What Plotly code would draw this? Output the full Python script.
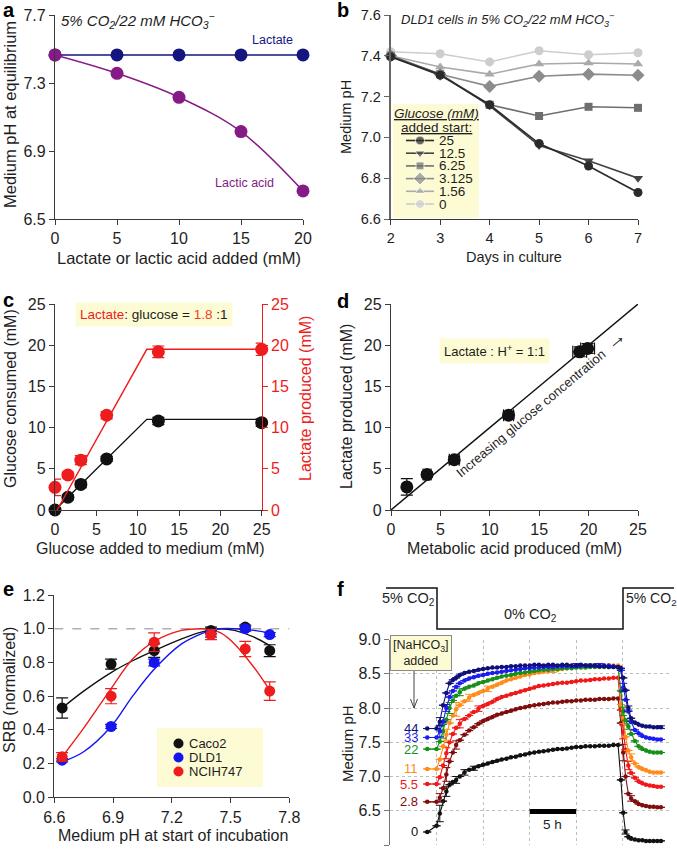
import plotly.graph_objects as go

W, H = 677, 850
FONT = "Liberation Sans, Arial, Helvetica, sans-serif"
TXT = "#1e1e1e"
AXC = "#3a3a3a"
NOTE_BG = "#fdfbd3"


def PX(x):
    return x / W


def PY(y):
    return 1 - y / H


# ---------------- panel a ----------------
A_ADDED = [0, 5, 10, 15, 20]
A_LACTATE = [7.465, 7.465, 7.465, 7.465, 7.465]
A_LACTIC_ACID = [7.465, 7.357, 7.216, 7.014, 6.665]
A_YTICKS = [6.5, 6.9, 7.3, 7.7]
A_XTICKS = [0, 5, 10, 15, 20]

# ---------------- panel b ----------------
B_DAYS = [2, 3, 4, 5, 6, 7]
B_LABELS = ["25", "12.5", "6.25", "3.125", "1.56", "0"]
B_PH_25 = [7.395, 7.305, 7.16, 6.97, 6.86, 6.73]
B_PH_12_5 = [7.395, 7.31, 7.155, 6.96, 6.885, 6.80]
B_PH_6_25 = [7.40, 7.31, 7.16, 7.105, 7.15, 7.145]
B_PH_3_125 = [7.40, 7.31, 7.25, 7.30, 7.31, 7.305]
B_PH_1_56 = [7.40, 7.345, 7.31, 7.36, 7.365, 7.36]
B_PH_0 = [7.42, 7.41, 7.37, 7.425, 7.405, 7.415]

# ---------------- panel c ----------------
C_GLUCOSE_ADDED = [0, 1.56, 3.125, 6.25, 12.5, 25]
C_GLUCOSE_CONSUMED = [0, 1.55, 3.1, 6.2, 10.8, 10.6]
C_GLUCOSE_ERR = [0.2, 0.3, 0.4, 0.3, 0.45, 0.45]
C_LACTATE = [2.75, 4.25, 6.05, 11.5, 19.2, 19.5]
C_LACTATE_ERR = [1.0, 0.35, 0.55, 0.45, 0.7, 0.75]
C_FIT_GLU_X = [0, 11.1, 25]
C_FIT_GLU_Y = [0, 11.0, 11.0]
C_FIT_LAC_X = [0.25, 11.1, 25]
C_FIT_LAC_Y = [0, 19.5, 19.5]

# ---------------- panel d ----------------
D_ACID = [1.6, 3.65, 6.4, 11.9, 19.1, 19.9]
D_LACTATE = [2.8, 4.3, 6.1, 11.5, 19.2, 19.6]
D_YERR = [1.0, 0.3, 0.4, 0.4, 0.6, 0.6]
D_XERR = [0.2, 0.4, 0.5, 0.5, 0.7, 0.7]
D_UNITY = [0, 25]

# ---------------- panel e ----------------
E_PH = [6.64, 6.89, 7.11, 7.40, 7.575, 7.70]
E_CACO2 = [0.53, 0.79, 0.87, 0.99, 1.01, 0.87]
E_CACO2_ERR = [0.06, 0.03, 0.04, 0.02, 0.012, 0.035]
E_DLD1 = [0.22, 0.42, 0.80, 0.97, 1.00, 0.965]
E_DLD1_ERR = [0.01, 0.012, 0.02, 0.02, 0.015, 0.012]
E_NCIH747 = [0.24, 0.60, 0.92, 0.965, 0.88, 0.63]
E_NCIH747_ERR = [0.025, 0.045, 0.055, 0.03, 0.045, 0.055]
E_FIT_PH = [6.64, 6.75, 6.89, 7.0, 7.11, 7.25, 7.35, 7.40, 7.45, 7.52, 7.62, 7.70]
E_FIT_CACO2 = [0.53, 0.63, 0.74, 0.81, 0.87, 0.94, 0.98, 0.99, 1.0, 0.99, 0.95, 0.90]
E_FIT_DLD1 = [0.21, 0.27, 0.42, 0.60, 0.76, 0.91, 0.97, 0.99, 1.0, 1.0, 0.99, 0.975]
E_FIT_NCIH747 = [0.24, 0.41, 0.645, 0.82, 0.925, 0.99, 1.0, 0.995, 0.975, 0.91, 0.77, 0.635]

# ---------------- panel f ----------------
F_TIME = [4.0,
          5.0, 5.35, 5.7, 6.05, 6.4, 6.75, 7.1, 7.5, 8.0, 8.5, 9.0, 9.5, 10.0, 10.5,
          11.0, 11.5, 12.0, 12.5, 13.0, 13.5, 14.0, 14.5, 15.0, 15.5, 16.0, 16.5, 17.0, 17.5,
          18.0, 18.5, 19.0, 19.5, 20.0, 20.5, 21.0, 21.5, 22.0, 22.5, 23.0, 23.5, 24.0, 24.5,
          24.8, 25.05, 25.3, 25.6, 25.9, 26.3, 26.7, 27.1, 27.5, 27.9, 28.3, 28.7, 29.1]
F_LABELS = ["44", "33", "22", "11", "5.5", "2.8", "0"]
F_PH_44 = [7.70,
           7.70, 7.80, 8.04, 8.22, 8.36, 8.41, 8.44, 8.48, 8.51, 8.53, 8.54, 8.56, 8.57, 8.58,
           8.59, 8.59, 8.60, 8.60, 8.61, 8.61, 8.62, 8.62, 8.62, 8.63, 8.63, 8.62, 8.63, 8.63,
           8.62, 8.63, 8.63, 8.62, 8.62, 8.63, 8.62, 8.62, 8.62, 8.61, 8.61, 8.60, 8.60, 8.60,
           8.58, 8.44, 8.26, 8.00, 7.85, 7.79, 7.76, 7.74, 7.73, 7.73, 7.72, 7.72, 7.72]
F_PH_33 = [7.57,
           7.57, 7.66, 7.80, 8.00, 8.16, 8.25, 8.31, 8.36, 8.40, 8.43, 8.45, 8.47, 8.48, 8.50,
           8.51, 8.52, 8.53, 8.54, 8.55, 8.56, 8.57, 8.58, 8.58, 8.59, 8.59, 8.60, 8.60, 8.60,
           8.61, 8.61, 8.61, 8.61, 8.62, 8.62, 8.62, 8.62, 8.62, 8.62, 8.62, 8.62, 8.61, 8.60,
           8.55, 8.30, 8.12, 7.95, 7.80, 7.68, 7.63, 7.59, 7.57, 7.56, 7.55, 7.54, 7.54]
F_PH_22 = [7.40,
           7.40, 7.51, 7.66, 7.83, 8.00, 8.11, 8.18, 8.23, 8.28, 8.31, 8.33, 8.36, 8.38, 8.40,
           8.42, 8.44, 8.46, 8.47, 8.48, 8.50, 8.51, 8.52, 8.53, 8.54, 8.55, 8.56, 8.56, 8.57,
           8.57, 8.58, 8.58, 8.58, 8.59, 8.59, 8.59, 8.60, 8.60, 8.60, 8.60, 8.60, 8.60, 8.59,
           8.25, 7.95, 7.82, 7.73, 7.62, 7.52, 7.44, 7.40, 7.38, 7.36, 7.35, 7.35, 7.35]
F_PH_11 = [7.11,
           7.11, 7.25, 7.44, 7.61, 7.78, 7.89, 7.98, 8.04, 8.10, 8.15, 8.19, 8.22, 8.25, 8.28,
           8.31, 8.34, 8.37, 8.40, 8.42, 8.44, 8.46, 8.48, 8.49, 8.51, 8.52, 8.53, 8.54, 8.55,
           8.56, 8.57, 8.58, 8.59, 8.59, 8.60, 8.60, 8.61, 8.61, 8.62, 8.62, 8.62, 8.62, 8.62,
           8.05, 7.85, 7.58, 7.38, 7.28, 7.19, 7.14, 7.11, 7.09, 7.07, 7.06, 7.06, 7.06]
F_PH_5_5 = [6.89,
            6.89, 6.99, 7.16, 7.34, 7.50, 7.62, 7.71, 7.77, 7.84, 7.89, 7.94, 7.99, 8.03, 8.06,
            8.09, 8.13, 8.16, 8.18, 8.20, 8.22, 8.24, 8.26, 8.28, 8.30, 8.32, 8.33, 8.34, 8.35,
            8.36, 8.37, 8.37, 8.38, 8.39, 8.40, 8.40, 8.41, 8.42, 8.42, 8.43, 8.43, 8.44, 8.44,
            7.97, 7.65, 7.39, 7.16, 7.05, 6.98, 6.93, 6.90, 6.88, 6.87, 6.86, 6.85, 6.85]
F_PH_2_8 = [6.63,
            6.63, 6.69, 6.83, 7.03, 7.22, 7.35, 7.46, 7.53, 7.61, 7.67, 7.72, 7.77, 7.81, 7.84,
            7.87, 7.90, 7.92, 7.94, 7.96, 7.98, 8.00, 8.01, 8.03, 8.04, 8.05, 8.06, 8.07, 8.08,
            8.08, 8.09, 8.10, 8.10, 8.11, 8.11, 8.12, 8.12, 8.12, 8.13, 8.13, 8.13, 8.14, 8.14,
            7.78, 7.35, 7.00, 6.75, 6.68, 6.64, 6.60, 6.58, 6.57, 6.56, 6.56, 6.55, 6.55]
F_PH_0 = [6.19,
          6.28, 6.46, 6.64, 6.78, 6.88, 6.92, 6.95, 7.00, 7.06, 7.10, 7.12, 7.15, 7.17, 7.19,
          7.21, 7.23, 7.25, 7.26, 7.28, 7.29, 7.31, 7.32, 7.34, 7.35, 7.36, 7.37, 7.38, 7.39,
          7.40, 7.40, 7.41, 7.42, 7.43, 7.43, 7.44, 7.44, 7.44, 7.45, 7.45, 7.45, 7.46, 7.46,
          6.95, 6.47, 6.19, 6.12, 6.09, 6.08, 6.07, 6.07, 6.06, 6.06, 6.06, 6.06, 6.06]
# sparse error bars (index into F_TIME, error size)
F_ERR_44_IDX = [2, 36, 46, 55]
F_ERR_44_VAL = [0.06, 0.02, 0.03, 0.02]
F_ERR_33_IDX = [2, 4, 33, 38, 44]
F_ERR_33_VAL = [0.08, 0.05, 0.03, 0.03, 0.06]
F_ERR_22_IDX = [3, 5, 8, 44, 46]
F_ERR_22_VAL = [0.10, 0.08, 0.05, 0.06, 0.04]
F_ERR_11_IDX = [4, 7, 10, 14, 28, 44, 47]
F_ERR_11_VAL = [0.08, 0.10, 0.05, 0.04, 0.03, 0.08, 0.05]
F_ERR_5_5_IDX = [4, 8, 12, 44, 46]
F_ERR_5_5_VAL = [0.08, 0.06, 0.04, 0.10, 0.06]
F_ERR_2_8_IDX = [2, 4, 7, 44, 47]
F_ERR_2_8_VAL = [0.06, 0.10, 0.06, 0.12, 0.04]
F_ERR_0_IDX = [2, 4, 7, 9, 11, 45]
F_ERR_0_VAL = [0.12, 0.07, 0.05, 0.04, 0.03, 0.03]
F_SCALE_BAR_H = [15, 20]

# ---------------- styles ----------------
A_COL_LACTATE = "#15157f"
A_COL_LACTIC = "#861a86"
B_COLORS = ["#2b2b2b", "#444444", "#6e6e6e", "#8c8c8c", "#aaaaaa", "#cdcdcd"]
B_SYMBOLS = ["circle", "triangle-down", "square", "diamond", "triangle-up", "circle"]
B_SIZES = [9, 9, 8, 10, 9, 9]
C_RED = "#ee1c1c"
E_COLS = ["#111111", "#1515ee", "#ee1c1c"]
E_NAMES = ["Caco2", "DLD1", "NCIH747"]
F_COLORS = ["#10107a", "#1c1cf0", "#17901a", "#ff8c1a", "#f01818", "#800d0d", "#111111"]

fig = go.Figure()


def sc(**kw):
    kw.setdefault("showlegend", False)
    kw.setdefault("cliponaxis", False)
    kw.setdefault("hoverinfo", "skip")
    fig.add_trace(go.Scatter(**kw))


# ---- a
sc(x=A_ADDED, y=A_LACTATE, mode="lines+markers", xaxis="x", yaxis="y",
   line=dict(color=A_COL_LACTATE, width=1.5), marker=dict(size=13, color=A_COL_LACTATE))
sc(x=A_ADDED, y=A_LACTIC_ACID, mode="lines+markers", xaxis="x", yaxis="y",
   line=dict(color=A_COL_LACTIC, width=1.5, shape="spline"), marker=dict(size=13, color=A_COL_LACTIC))

# ---- b
B_SERIES = [B_PH_25, B_PH_12_5, B_PH_6_25, B_PH_3_125, B_PH_1_56, B_PH_0]
for ys, col, sym, sz in reversed(list(zip(B_SERIES, B_COLORS, B_SYMBOLS, B_SIZES))):
    sc(x=B_DAYS, y=ys, mode="lines+markers", xaxis="x2", yaxis="y2",
       line=dict(color=col, width=1.6), marker=dict(size=sz, color=col, symbol=sym))

# ---- c
sc(x=C_FIT_GLU_X, y=C_FIT_GLU_Y, mode="lines", xaxis="x3", yaxis="y3",
   line=dict(color="#111111", width=1.4))
sc(x=C_FIT_LAC_X, y=C_FIT_LAC_Y, mode="lines", xaxis="x3", yaxis="y4",
   line=dict(color=C_RED, width=1.4))
sc(x=C_GLUCOSE_ADDED, y=C_GLUCOSE_CONSUMED, mode="markers", xaxis="x3", yaxis="y3",
   marker=dict(size=13, color="#111111"),
   error_y=dict(type="data", array=C_GLUCOSE_ERR, color="#111111", thickness=1.2, width=6))
sc(x=C_GLUCOSE_ADDED, y=C_LACTATE, mode="markers", xaxis="x3", yaxis="y4",
   marker=dict(size=13, color=C_RED),
   error_y=dict(type="data", array=C_LACTATE_ERR, color=C_RED, thickness=1.2, width=6))

# ---- d
sc(x=D_UNITY, y=D_UNITY, mode="lines", xaxis="x4", yaxis="y5",
   line=dict(color="#111111", width=1.4))
sc(x=D_ACID, y=D_LACTATE, mode="markers", xaxis="x4", yaxis="y5",
   marker=dict(size=13, color="#111111"),
   error_y=dict(type="data", array=D_YERR, color="#111111", thickness=1.2, width=6),
   error_x=dict(type="data", array=D_XERR, color="#111111", thickness=1.2, width=6))

# ---- e
for fy, col in zip([E_FIT_CACO2, E_FIT_DLD1, E_FIT_NCIH747], E_COLS):
    sc(x=E_FIT_PH, y=fy, mode="lines", xaxis="x5", yaxis="y6",
       line=dict(color=col, width=1.4, shape="spline", smoothing=1.0))
for ys, es, col in zip([E_CACO2, E_DLD1, E_NCIH747], [E_CACO2_ERR, E_DLD1_ERR, E_NCIH747_ERR], E_COLS):
    sc(x=E_PH, y=ys, mode="markers", xaxis="x5", yaxis="y6",
       marker=dict(size=11, color=col),
       error_y=dict(type="data", array=es, color=col, thickness=1.2, width=6))

# ---- f
F_SERIES = [F_PH_44, F_PH_33, F_PH_22, F_PH_11, F_PH_5_5, F_PH_2_8, F_PH_0]
F_ERRS = [(F_ERR_44_IDX, F_ERR_44_VAL), (F_ERR_33_IDX, F_ERR_33_VAL), (F_ERR_22_IDX, F_ERR_22_VAL),
          (F_ERR_11_IDX, F_ERR_11_VAL), (F_ERR_5_5_IDX, F_ERR_5_5_VAL), (F_ERR_2_8_IDX, F_ERR_2_8_VAL),
          (F_ERR_0_IDX, F_ERR_0_VAL)]
for ys, col, (eidx, evals) in reversed(list(zip(F_SERIES, F_COLORS, F_ERRS))):
    err = [None] * len(F_TIME)
    for i, v in zip(eidx, evals):
        err[i] = v
    sc(x=F_TIME, y=ys, mode="lines+markers", xaxis="x6", yaxis="y7",
       line=dict(color=col, width=1.1), marker=dict(size=4.5, color=col),
       error_y=dict(type="data", array=err, color=col, thickness=1, width=4))

# ---- legend keys (overlay pixel axis)
B_LEG_TOP = 140.5
B_LEG_STEP = 12.7
for i, (lab, col, sym, sz) in enumerate(zip(B_LABELS, B_COLORS, B_SYMBOLS, B_SIZES)):
    yy = B_LEG_TOP + i * B_LEG_STEP
    sc(x=[406, 420, 434], y=[yy, yy, yy], mode="lines+markers", xaxis="x7", yaxis="y8",
       line=dict(color=col, width=1.6), marker=dict(size=[0, sz, 0], color=col, symbol=sym))
E_LEG_TOP = 743.5
E_LEG_STEP = 14
for i, (nm, col) in enumerate(zip(E_NAMES, E_COLS)):
    yy = E_LEG_TOP + i * E_LEG_STEP
    sc(x=[178.5], y=[yy], mode="markers", xaxis="x7", yaxis="y8",
       marker=dict(size=10, color=col))


# ---------------- axes ----------------
def axis(domain, rng, anchor, tickvals=None, fmt=None, color=AXC, tcolor=TXT, tsize=16, **kw):
    d = dict(domain=domain, range=rng, anchor=anchor, showline=True, linecolor=color, linewidth=1.3,
             ticks="outside", ticklen=5, tickwidth=1.3, tickcolor=color, showgrid=False,
             zeroline=False, tickfont=dict(family=FONT, size=tsize, color=tcolor),
             automargin=False, fixedrange=True)
    if tickvals is not None:
        d["tickvals"] = tickvals
    if fmt:
        d["tickformat"] = fmt
    d.update(kw)
    return d


DOM_A_X = [PX(55), PX(303)]
DOM_TOP_Y = [PY(219), PY(15)]
DOM_B_X = [PX(390.7), PX(638)]
DOM_C_X = [PX(55), PX(261.7)]
DOM_MID_Y = [PY(510), PY(304)]
DOM_D_X = [PX(391), PX(638)]
DOM_E_X = [PX(54.3), PX(289.3)]
DOM_E_Y = [PY(797.3), PY(595)]
DOM_F_X = [PX(390), PX(669.3)]
DOM_F_Y = [PY(845), PY(639.5)]

TICKS25 = [0, 5, 10, 15, 20, 25]
fig.update_layout(
    xaxis=axis(DOM_A_X, [0, 20], "y", A_XTICKS),
    yaxis=axis(DOM_TOP_Y, [6.5, 7.7], "x", A_YTICKS, ".1f"),
    xaxis2=axis(DOM_B_X, [2, 7], "y2", B_DAYS, tsize=14.5),
    yaxis2=axis(DOM_TOP_Y, [6.6, 7.6], "x2", [6.6, 6.8, 7.0, 7.2, 7.4, 7.6], ".1f",
                color="#666666", linewidth=2, tsize=14.5),
    xaxis3=axis(DOM_C_X, [0, 25], "y3", TICKS25),
    yaxis3=axis(DOM_MID_Y, [0, 25], "x3", TICKS25),
    yaxis4=axis(DOM_MID_Y, [0, 25], "x3", TICKS25, color=C_RED, tcolor=C_RED,
                overlaying="y3", side="right"),
    xaxis4=axis(DOM_D_X, [0, 25], "y5", TICKS25),
    yaxis5=axis(DOM_MID_Y, [0, 25], "x4", TICKS25),
    xaxis5=axis(DOM_E_X, [6.6, 7.8], "y6", [6.6, 6.9, 7.2, 7.5, 7.8], ".1f"),
    yaxis6=axis(DOM_E_Y, [0, 1.2], "x5", [0, 0.2, 0.4, 0.6, 0.8, 1.0, 1.2], ".1f"),
    xaxis6=dict(domain=DOM_F_X, range=[0, 30], anchor="y7", showline=False, showgrid=True,
                gridcolor="#bdbdbd", griddash="dot", gridwidth=1, dtick=5, tick0=0,
                showticklabels=False, ticks="", zeroline=False, automargin=False, fixedrange=True),
    yaxis7=axis(DOM_F_Y, [6.0, 9.0], "x6", [6.0, 6.5, 7.0, 7.5, 8.0, 8.5, 9.0], ".1f",
                color="#777777", showgrid=True, gridcolor="#bdbdbd", griddash="dot", gridwidth=1),
    xaxis7=dict(domain=[0, 1], range=[0, W], anchor="y8", visible=False, fixedrange=True),
    yaxis8=dict(domain=[0, 1], range=[H, 0], anchor="x7", visible=False, fixedrange=True),
)

# ---------------- shapes ----------------
shapes = []
shapes.append(dict(type="rect", xref="paper", yref="paper", x0=PX(393), x1=PX(479), y0=PY(218),
                   y1=PY(104), fillcolor=NOTE_BG, line=dict(width=0), layer="below"))
shapes.append(dict(type="rect", xref="paper", yref="paper", x0=PX(157), x1=PX(263), y0=PY(787),
                   y1=PY(728), fillcolor=NOTE_BG, line=dict(width=0), layer="below"))
shapes.append(dict(type="line", xref="x5 domain", yref="y6", x0=0, x1=1, y0=1.0, y1=1.0,
                   line=dict(color="#b0b0b0", width=1.5, dash="dash"), layer="below"))
co2_x = [PX(386), PX(437), PX(623), PX(674)]
co2_hi, co2_lo = PY(588), PY(629)
shapes.append(dict(type="path", xref="paper", yref="paper",
                   path=f"M {co2_x[0]},{co2_hi} L {co2_x[1]},{co2_hi} L {co2_x[1]},{co2_lo} "
                        f"L {co2_x[2]},{co2_lo} L {co2_x[2]},{co2_hi} L {co2_x[3]},{co2_hi}",
                   line=dict(color="#111111", width=1.5)))
shapes.append(dict(type="line", xref="x6", yref="y7", x0=F_SCALE_BAR_H[0], x1=F_SCALE_BAR_H[1],
                   y0=6.49, y1=6.49, line=dict(color="#000000", width=5)))
shapes.append(dict(type="line", xref="paper", yref="paper", x0=PX(414), x1=PX(414), y0=PY(669),
                   y1=PY(708), line=dict(color="#444444", width=1)))
shapes.append(dict(type="path", xref="paper", yref="paper",
                   path=f"M {PX(410.5)},{PY(699)} L {PX(414)},{PY(708)} L {PX(417.5)},{PY(699)}",
                   line=dict(color="#444444", width=1)))
fig.update_layout(shapes=shapes)

# ---------------- annotations ----------------
anns = []


def note(text, x, y, size=16, color=TXT, xanchor="center", yanchor="middle", angle=0, **kw):
    d = dict(text=text, x=PX(x), y=PY(y), xref="paper", yref="paper", showarrow=False,
             xanchor=xanchor, yanchor=yanchor, textangle=angle,
             font=dict(family=FONT, size=size, color=color))
    d.update(kw)
    anns.append(d)


for lt, x, y in [("a", 1, 10), ("b", 335, 10), ("c", 1, 300), ("d", 335, 301), ("e", 1, 589), ("f", 335, 589)]:
    note(f"<b>{lt}</b>", x, y, size=20, color="#000000", xanchor="left")

# axis titles
note("Medium pH at equilibrium", 10, 115, size=16.5, angle=-90)
note("Lactate or lactic acid added (mM)", 179, 258, size=16.5)
note("Medium pH", 346, 117, size=14.5, angle=-90)
note("Days in culture", 514, 257, size=14.5)
note("Glucose consumed (mM)", 10, 399, angle=-90)
note("Lactate produced (mM)", 305, 399, angle=-90, color=C_RED)
note("Glucose added to medium (mM)", 150, 548)
note("Lactate produced (mM)", 347, 407, angle=-90)
note("Metabolic acid produced (mM)", 514, 548)
note("SRB (normalized)", 9, 690, angle=-90)
note("Medium pH at start of incubation", 172.5, 835)
note("Medium pH", 347, 744, size=15, angle=-90)

# panel a notes
note("<i>5% CO<sub>2</sub>/22 mM HCO<sub>3</sub><sup>−</sup></i>", 59, 20, size=15, xanchor="left")
note("Lactate", 272, 40, size=12.5, color=A_COL_LACTATE)
note("Lactic acid", 244, 182.5, size=12.5, color=A_COL_LACTIC)

# panel b notes
note("<i>DLD1 cells in 5% CO<sub>2</sub>/22 mM HCO<sub>3</sub><sup>−</sup></i>", 399, 20, size=13, xanchor="left")
note("<u><i>Glucose (mM)</i></u>", 436, 113, size=13.5)
note("<u>added start:</u>", 436, 127, size=13.5)
for i, lab in enumerate(B_LABELS):
    note(lab, 437, B_LEG_TOP + i * B_LEG_STEP, size=13.5, xanchor="left")

# panel c note
note(f"<span style='color:{C_RED}'>Lactate</span>: glucose = <span style='color:#f0402a'>1.8</span> :1",
     153.5, 314, size=13.5, bgcolor=NOTE_BG, borderpad=4)

# panel d notes
note("Lactate : H<sup>+</sup> = 1:1", 494, 350.5, size=13, bgcolor=NOTE_BG, borderpad=4)
anns.append(dict(text="Increasing glucose concentration  <span style='font-size:20px'>→</span>",
                 x=15.0, y=13.0, xref="x4", yref="y5",
                 showarrow=False, textangle=-40, font=dict(family=FONT, size=13, color=TXT)))

# panel e legend labels
for i, nm in enumerate(E_NAMES):
    note(nm, 187, E_LEG_TOP + i * E_LEG_STEP, size=13, xanchor="left")

# panel f notes
note("5% CO<sub>2</sub>", 409, 599, size=14.5)
note("0% CO<sub>2</sub>", 530, 615, size=14.5)
note("5% CO<sub>2</sub>", 624, 599, size=14, xanchor="left")
note("[NaHCO<sub>3</sub>]<br>added", 420.5, 652.5, size=12.5, bgcolor=NOTE_BG, bordercolor="#8a8a8a",
     borderwidth=1, borderpad=2)
anns.append(dict(text="5 h", x=17.5, y=6.30, xref="x6", yref="y7", showarrow=False,
                 font=dict(family=FONT, size=13.5, color=TXT)))
for lab, ys, col in zip(F_LABELS, F_SERIES, F_COLORS):
    anns.append(dict(text=lab, x=3.2, y=ys[0], xref="x6", yref="y7", showarrow=False,
                     xanchor="right", font=dict(family=FONT, size=13, color=col)))

fig.update_layout(
    annotations=anns,
    width=W, height=H,
    margin=dict(l=0, r=0, t=0, b=0),
    paper_bgcolor="white",
    plot_bgcolor="rgba(0,0,0,0)",
    template="none",
    showlegend=False,
    font=dict(family=FONT, size=13, color=TXT),
)

fig.write_html("out.html", config={"displayModeBar": False},
               post_script="document.body.style.margin='0px';document.body.style.overflow='hidden';")
